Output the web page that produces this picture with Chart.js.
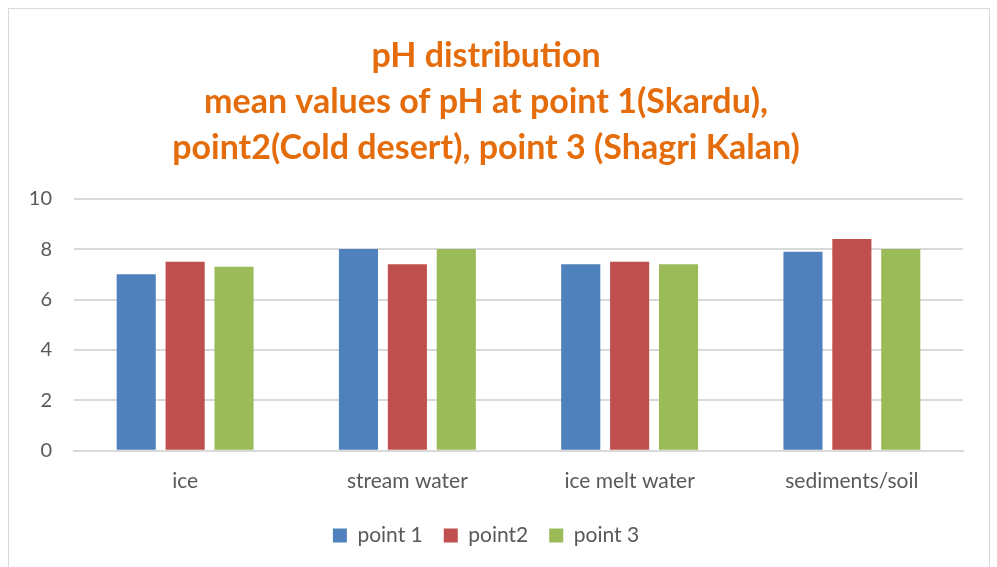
<!DOCTYPE html>
<html>
<head>
<meta charset="utf-8">
<script src="https://cdn.jsdelivr.net/npm/chart.js@4/dist/chart.umd.min.js"></script>
<style>
  body { margin: 0; background: #fff; }
  #box { position: absolute; left: 8px; top: 8px; width: 982px; height: 580px; border: 1px solid #d9d9d9; box-sizing: border-box; }
  #wrap { position: absolute; left: 0; top: 0; width: 980px; height: 559px; }
</style>
</head>
<body>
<div id="box"><div id="wrap"><canvas id="myBarChart"></canvas></div></div>
<script>
const categories = ['ice', 'stream water', 'ice melt water', 'sediments/soil'];
const point1 = [7.0, 8.0, 7.4, 7.9];
const point2 = [7.5, 7.4, 7.5, 8.4];
const point3 = [7.3, 8.0, 7.4, 8.0];
const yTicks = [0, 2, 4, 6, 8, 10];

const ctx = document.getElementById('myBarChart').getContext('2d');
const fontFamily = 'Lato, "Open Sans", sans-serif';

const data = {
    labels: categories,
    datasets: [
        { label: 'point 1', data: point1, backgroundColor: '#4F81BD' },
        { label: 'point2', data: point2, backgroundColor: '#C0504D' },
        { label: 'point 3', data: point3, backgroundColor: '#9BBB59' }
    ]
};

const config = {
    type: 'bar',
    data: data,
    options: {
        responsive: true,
        maintainAspectRatio: false,
        animation: false,
        categoryPercentage: 0.66,
        barPercentage: 0.8,
        layout: { padding: { left: 0, right: 26, top: 24, bottom: 12 } },
        scales: {
            x: {
                grid: { display: false },
                border: { color: '#d9d9d9', width: 2 },
                ticks: { color: '#595959', font: { family: fontFamily, size: 21 }, padding: 10 }
            },
            y: {
                min: 0,
                max: 10,
                afterFit: function(scale) { scale.width = 65; },
                afterBuildTicks: function(scale) { scale.ticks = yTicks.map(v => ({ value: v })); },
                grid: { color: '#d9d9d9', lineWidth: 2, drawTicks: false },
                border: { display: false },
                ticks: { color: '#595959', font: { family: fontFamily, size: 20 }, padding: 22 }
            }
        },
        plugins: {
            title: {
                display: true,
                text: ['pH distribution', 'mean values of pH at point 1(Skardu),', 'point2(Cold desert), point 3 (Shagri Kalan)'],
                color: '#E46C0A',
                font: { family: fontFamily, size: 34, weight: 'bold', lineHeight: 1.35 },
                padding: { top: 0, bottom: 28 }
            },
            legend: {
                position: 'bottom',
                labels: {
                    color: '#595959',
                    font: { family: fontFamily, size: 21 },
                    boxWidth: 14,
                    boxHeight: 14,
                    padding: 21
                }
            },
            tooltip: { enabled: false }
        }
    }
};

const myBarChart = new Chart(ctx, config);
</script>
</body>
</html>
